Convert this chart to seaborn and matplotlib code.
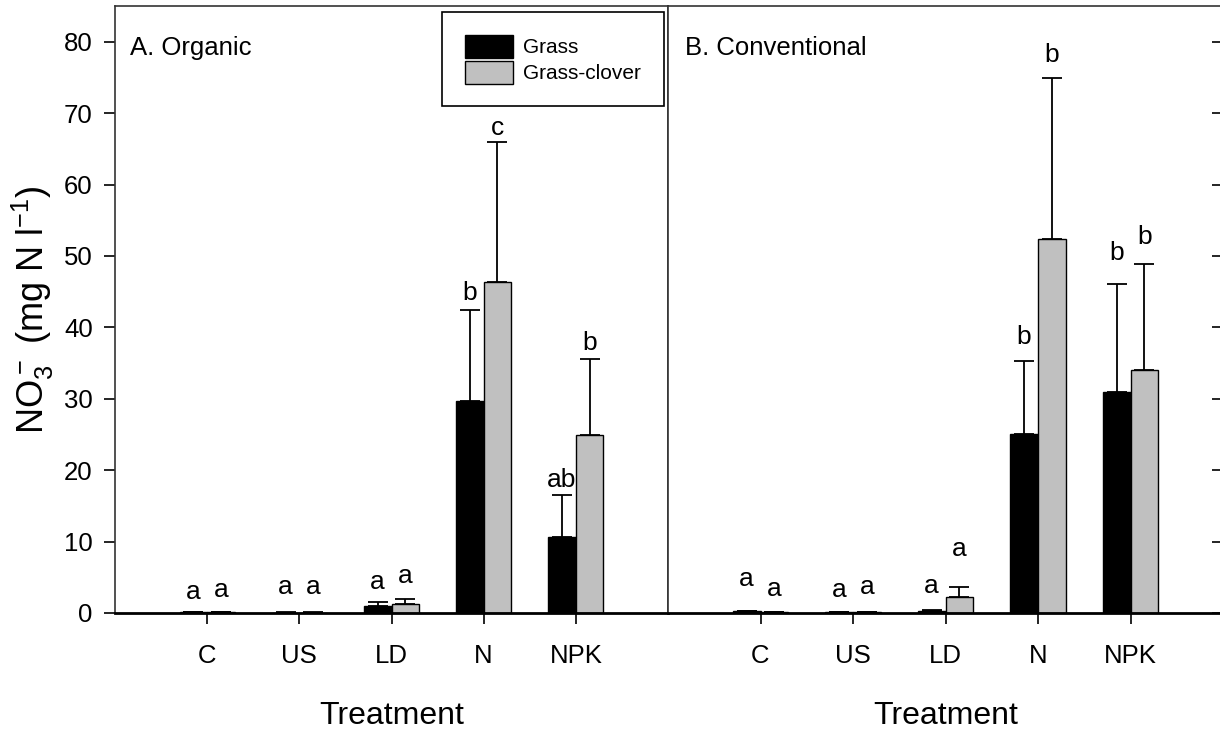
import numpy as np
import pandas as pd
import seaborn as sns
from matplotlib import pyplot as plt

# data (mg N / l)
treatments = ["C", "US", "LD", "N", "NPK"]
covers = ["Grass", "Grass-clover"]

organic_grass = [0.15, 0.05, 0.93, 29.75, 10.6]
organic_grass_err = [0.05, 0.03, 0.6, 12.7, 5.9]
organic_clover = [0.1, 0.05, 1.3, 46.3, 24.9]
organic_clover_err = [0.05, 0.03, 0.65, 19.7, 10.7]

conv_grass = [0.25, 0.1, 0.35, 25.0, 31.0]
conv_grass_err = [0.05, 0.03, 0.1, 10.3, 15.1]
conv_clover = [0.1, 0.1, 2.3, 52.4, 34.0]
conv_clover_err = [0.05, 0.03, 1.4, 22.5, 14.9]

organic_letters = [["a", "a", "a", "b", "ab"], ["a", "a", "a", "c", "b"]]
conv_letters = [["a", "a", "a", "b", "b"], ["a", "a", "a", "b", "b"]]

# baseline height of the significance letters (annotation placement)
organic_letter_y = [[1.9, 2.6, 3.3, 43.8, 17.6], [2.2, 2.6, 4.2, 67.0, 36.8]]
conv_letter_y = [[3.8, 2.2, 2.8, 37.6, 49.4], [2.4, 2.7, 8.0, 77.1, 51.7]]


def make_df(grass, grass_err, clover, clover_err):
    rows = []
    for i, t in enumerate(treatments):
        rows.append({"treatment": t, "cover": "Grass", "value": grass[i], "err": grass_err[i]})
        rows.append({"treatment": t, "cover": "Grass-clover", "value": clover[i], "err": clover_err[i]})
    return pd.DataFrame(rows)


sns.set_style("ticks")
plt.rcParams["font.family"] = ["Liberation Sans", "DejaVu Sans"]
plt.rcParams["mathtext.default"] = "regular"
for key in ["text.color", "axes.labelcolor", "xtick.color", "ytick.color"]:
    plt.rcParams[key] = "black"

fig = plt.figure(figsize=(12.2, 7.29), dpi=100)
ax1 = fig.add_axes([115 / 1220, 116 / 729, 553 / 1220, 607 / 729])
ax2 = fig.add_axes([668 / 1220, 116 / 729, 555 / 1220, 607 / 729])

palette = {"Grass": "black", "Grass-clover": "#c0c0c0"}

panels = [
    (ax1, make_df(organic_grass, organic_grass_err, organic_clover, organic_clover_err),
     organic_letters, organic_letter_y, "A. Organic"),
    (ax2, make_df(conv_grass, conv_grass_err, conv_clover, conv_clover_err),
     conv_letters, conv_letter_y, "B. Conventional"),
]

for ax, df, letters, letter_y, title in panels:
    sns.barplot(data=df, x="treatment", y="value", hue="cover", order=treatments,
                hue_order=covers, palette=palette, width=0.6, edgecolor="black",
                linewidth=1, errorbar=None, legend=(ax is ax1), ax=ax)
    for k, cover in enumerate(covers):
        sub = df[df["cover"] == cover]
        bars = ax.containers[k]
        xs = [b.get_x() + b.get_width() / 2 for b in bars]
        ax.errorbar(xs, sub["value"], yerr=[np.zeros(len(sub)), sub["err"]],
                    fmt="none", ecolor="black", elinewidth=1.3, capsize=7, capthick=1.3)
        for x, lab, ly in zip(xs, letters[k], letter_y[k]):
            ax.text(x, ly, lab, ha="center", va="baseline", fontsize=19)
    ax.set_xlim(-1, 5)
    ax.set_ylim(0, 85)
    ax.set_xlabel("Treatment", fontsize=23, labelpad=24)
    ax.set_ylabel("")
    ax.text(0.027 if ax is ax1 else 0.03, 0.93, title, transform=ax.transAxes,
            fontsize=18.5, va="center", ha="left")
    ax.tick_params(axis="x", direction="out", length=8, width=1.2, labelsize=18.5, pad=14)
    for side in ["top", "left", "right"]:
        ax.spines[side].set_linewidth(1.2)
        ax.spines[side].set_color("#333333")
    ax.spines["bottom"].set_linewidth(2)
    ax.spines["bottom"].set_color("black")

ax1.set_yticks(range(0, 81, 10))
ax1.tick_params(axis="y", direction="out", length=8, width=1.2, labelsize=18.5, pad=8)
ax1.set_ylabel(r"NO$_3^-$ (mg N l$^{-1}$)", fontsize=26, labelpad=6)

ax2.set_yticks(range(0, 81, 10))
ax2.tick_params(axis="y", left=False, labelleft=False, right=True, direction="in",
                length=8, width=1.2)

handles, labels = ax1.get_legend_handles_labels()
ax1.legend(handles, labels, loc="upper left", bbox_to_anchor=(0.591, 0.99),
           borderaxespad=0, fontsize=15, frameon=True, fancybox=False, framealpha=1,
           edgecolor="black", handlelength=2.3, handleheight=1.3,
           labelspacing=0.15, handletextpad=0.5, borderpad=1.1)
ax1.get_legend().get_frame().set_linewidth(1.2)

fig.savefig("out.png", dpi=100)
